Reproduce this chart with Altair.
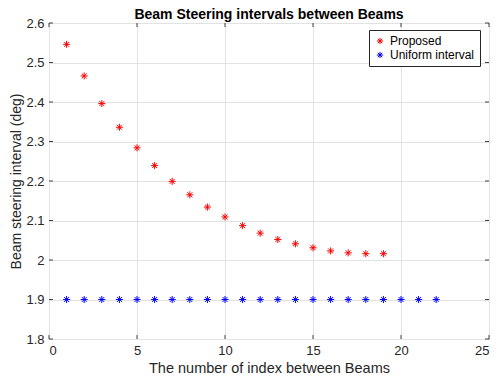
import altair as alt
import pandas as pd

title_text = ["Beam Steering intervals between Beams"]
proposed_x = list(range(1, 20))
proposed_y = [2.546, 2.466, 2.396, 2.336, 2.284, 2.239, 2.199, 2.165, 2.134,
              2.109, 2.087, 2.068, 2.052, 2.041, 2.031, 2.023, 2.018, 2.016, 2.016]
uniform_x = list(range(1, 23))
uniform_y = [1.9] * 22

series_names = ["Proposed", "Uniform interval"]
series_colors = ["#ff0000", "#0000ff"]
x_ticks = [0, 5, 10, 15, 20, 25]
y_ticks = [1.8, 1.9, 2.0, 2.1, 2.2, 2.3, 2.4, 2.5, 2.6]

df = pd.concat([
    pd.DataFrame({"x": proposed_x, "y": proposed_y, "series": series_names[0]}),
    pd.DataFrame({"x": uniform_x, "y": uniform_y, "series": series_names[1]}),
])
xt = pd.DataFrame({"t": x_ticks})
yt = pd.DataFrame({"t": y_ticks})
tt = pd.DataFrame({"title": title_text})

W, H = 440, 316
star = "M-1,0L1,0M0,-1L0,1M-0.7,-0.7L0.7,0.7M-0.7,0.7L0.7,-0.7"
font = "Liberation Sans"
tick_col = "#404040"

xs = alt.Scale(domain=[0, 25], nice=False)
ys = alt.Scale(domain=[1.8, 2.6], nice=False, zero=False)
x_axis = alt.Axis(values=x_ticks, title="The number of index between Beams", format="~g",
                  titleFontSize=14.5, titlePadding=4)
y_axis = alt.Axis(values=y_ticks, title="Beam steering interval (deg)", format="~g",
                  titleFontSize=14, titlePadding=2)

points = alt.Chart(df).mark_point(shape=star, filled=False, size=50, strokeWidth=1, opacity=1).encode(
    x=alt.X("x:Q", scale=xs, axis=x_axis),
    y=alt.Y("y:Q", scale=ys, axis=y_axis),
    color=alt.Color("series:N", scale=alt.Scale(domain=series_names, range=series_colors),
                    legend=alt.Legend(title=None, orient="none", legendX=320, legendY=7,
                                      strokeColor="#262626", fillColor="white", padding=5,
                                      symbolType=star, symbolSize=40, symbolStrokeWidth=1,
                                      labelFont=font, labelFontSize=12, labelColor="#000000",
                                      labelOffset=4, rowPadding=2)),
)

xb = alt.Chart(xt).mark_rule(color=tick_col, strokeWidth=1).encode(
    x=alt.X("t:Q", scale=xs, axis=x_axis), y=alt.value(H), y2=alt.value(H - 4))
xtp = alt.Chart(xt).mark_rule(color=tick_col, strokeWidth=1).encode(
    x=alt.X("t:Q", scale=xs, axis=x_axis), y=alt.value(0), y2=alt.value(4))
yl = alt.Chart(yt).mark_rule(color=tick_col, strokeWidth=1).encode(
    y=alt.Y("t:Q", scale=ys, axis=y_axis), x=alt.value(0), x2=alt.value(4))
yr = alt.Chart(yt).mark_rule(color=tick_col, strokeWidth=1).encode(
    y=alt.Y("t:Q", scale=ys, axis=y_axis), x=alt.value(W), x2=alt.value(W - 4))

title_mark = alt.Chart(tt).mark_text(font=font, fontSize=14, fontWeight="bold", color="#000000",
                                     align="center", baseline="alphabetic").encode(
    text="title:N", x=alt.value(W / 2), y=alt.value(-4))

chart = alt.layer(points, xb, xtp, yl, yr, title_mark).properties(
    width=W, height=H,
    autosize=alt.AutoSizeParams(type="none"),
    padding={"left": 41, "top": 15, "right": 2, "bottom": 40},
).configure_view(
    stroke="#404040", strokeWidth=1
).configure_axis(
    labelFont=font, labelFontSize=13, labelColor="#262626",
    titleFont=font, titleColor="#262626", titleFontWeight="normal",
    gridColor="#e2e2e2", grid=True, domain=False, ticks=False,
    labelPadding=5,
)

chart.save("out.html", embed_options={"renderer": "svg", "actions": False})
